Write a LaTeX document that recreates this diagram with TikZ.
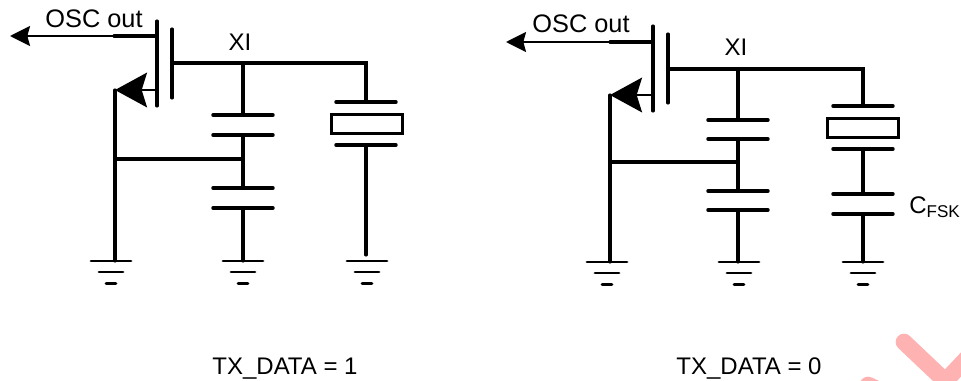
\documentclass[tikz,border=0pt]{standalone}
\usepackage{fontspec}
\setmainfont{Liberation Sans}
\usepackage{tikz}
\usetikzlibrary{arrows.meta}
\usetikzlibrary{calc}
\tikzset{
    wire/.style={line width=2.3pt,line cap=round,black},
    plate/.style={line width=2.6pt,line cap=round,black},
    gndline/.style={line width=2.1pt,line cap=round,black},
    thinwire/.style={line width=1.7pt,black},
    outarrow/.style={thinwire,-{Stealth[length=15pt,width=15pt,inset=2pt]}},
    srcarrow/.style={thinwire,-{Stealth[length=24pt,width=26pt,inset=4pt]}},
    xtal/.style={draw,line width=2.6pt,minimum width=53pt,minimum height=14.5pt,inner sep=0pt},
    lbl/.style={inner sep=0pt,anchor=base,font=\fontsize{18}{20}\selectfont},
    osclbl/.style={lbl,font=\fontsize{19}{21}\selectfont}
}
\def\gnd(#1)(#2){\draw[gndline] ($(#1)+(#2-20,0)$)--($(#1)+(#2+20,0)$);
    \draw[gndline] ($(#1)+(#2-12,11)$)--($(#1)+(#2+12,11)$);
    \draw[gndline] ($(#1)+(#2-5,22.5)$)--($(#1)+(#2+5,22.5)$)}
\def\plate(#1){\draw[plate] ($(#1)+(-30,0)$)--($(#1)+(30,0)$)}
\begin{document}
\begin{tikzpicture}[x=0.75pt,y=-0.75pt]
    \useasboundingbox (0,0) rectangle (961,381);
    \begin{scope}
        \clip (0,0) rectangle (961,381);
        \draw[line width=12.5pt,line cap=round,red!30] (904,342)--(962,397);
        \draw[line width=12.5pt,line cap=round,red!30] (935,392)--(970,355);
        \draw[line width=12.5pt,line cap=round,red!30] (868,385)--(900,400);
    \end{scope}

    % TX_DATA = 1
    \coordinate (draina) at (157,36);
    \coordinate (outa) at (10,36);
    \coordinate (midouta) at (114,36);
    \coordinate (gatea) at (172,63);
    \coordinate (xia) at (243,63);
    \coordinate (corna) at (366,63);
    \coordinate (srca) at (157,90);
    \coordinate (tipa) at (115,90);
    \coordinate (tapa) at (115,159);
    \coordinate (tapb) at (243,159);
    \coordinate (capa) at (243,115);
    \coordinate (capb) at (243,135);
    \coordinate (capc) at (243,188);
    \coordinate (capd) at (243,208);
    \coordinate (xtopa) at (366,102);
    \coordinate (xbota) at (366,145);
    \coordinate (gnda) at (115,261);
    \coordinate (gndb) at (243,261);
    \coordinate (gndc) at (366,255);
    \coordinate (gndcc) at (366,261);
    \node[xtal] (xtala) at (367,124) {};
    \draw[wire] (157,21)--(157,106);
    \draw[wire] (172,29)--(172,98);
    \draw[outarrow] (draina)--(outa);
    \draw[wire] (draina)--(midouta);
    \draw[srcarrow] (srca)--(tipa);
    \draw[wire] (gatea)--(corna)--(xtopa);
    \draw[wire] (xia)--(capa);
    \draw[wire] (capb)--(capc);
    \draw[wire] (capd)--(gndb);
    \draw[wire] (tipa)--(gnda);
    \draw[wire] (tapa)--(tapb);
    \draw[wire] (xbota)--(gndc);
    \plate(capa);
    \plate(capb);
    \plate(capc);
    \plate(capd);
    \plate(xtopa);
    \plate(xbota);
    \gnd(gnda)(-4);
    \gnd(gndb)(0);
    \gnd(gndcc)(1);
    \node[osclbl] (osca) at (94,28) {OSC out};
    \node[lbl] (labxia) at (240,51) {XI};
    \node[lbl] (dataa) at (285,374) {TX\_DATA = 1};

    % TX_DATA = 0
    \coordinate (drainb) at (653,42);
    \coordinate (outb) at (506,42);
    \coordinate (midoutb) at (610,42);
    \coordinate (gateb) at (668,69);
    \coordinate (xib) at (738,69);
    \coordinate (cornb) at (863,69);
    \coordinate (srcb) at (653,95);
    \coordinate (tipb) at (610,95);
    \coordinate (tapc) at (610,162);
    \coordinate (tapd) at (738,162);
    \coordinate (cape) at (738,120);
    \coordinate (capf) at (738,139);
    \coordinate (capg) at (738,191);
    \coordinate (caph) at (738,210);
    \coordinate (xtopb) at (863,106);
    \coordinate (xbotb) at (863,149);
    \coordinate (capi) at (863,194);
    \coordinate (capj) at (863,214);
    \coordinate (gndd) at (610,262);
    \coordinate (gnde) at (738,262);
    \coordinate (gndf) at (863,262);
    \node[xtal] (xtalb) at (863,128) {};
    \draw[wire] (653,26)--(653,111);
    \draw[wire] (668,34)--(668,103);
    \draw[outarrow] (drainb)--(outb);
    \draw[wire] (drainb)--(midoutb);
    \draw[srcarrow] (srcb)--(tipb);
    \draw[wire] (gateb)--(cornb)--(xtopb);
    \draw[wire] (xib)--(cape);
    \draw[wire] (capf)--(capg);
    \draw[wire] (caph)--(gnde);
    \draw[wire] (tipb)--(gndd);
    \draw[wire] (tapc)--(tapd);
    \draw[wire] (xbotb)--(capi);
    \draw[wire] (capj)--(gndf);
    \plate(cape);
    \plate(capf);
    \plate(capg);
    \plate(caph);
    \plate(xtopb);
    \plate(xbotb);
    \plate(capi);
    \plate(capj);
    \gnd(gndd)(-3);
    \gnd(gnde)(1);
    \gnd(gndf)(0);
    \node[osclbl] (oscb) at (581,33) {OSC out};
    \node[lbl] (labxib) at (736,56) {XI};
    \node[lbl,anchor=base west] (cfsk) at (909,214) {C\raisebox{-2.7pt}{\fontsize{12.8}{14}\selectfont FSK}};
    \node[lbl] (datab) at (749,374) {TX\_DATA = 0};
\end{tikzpicture}
\end{document}
